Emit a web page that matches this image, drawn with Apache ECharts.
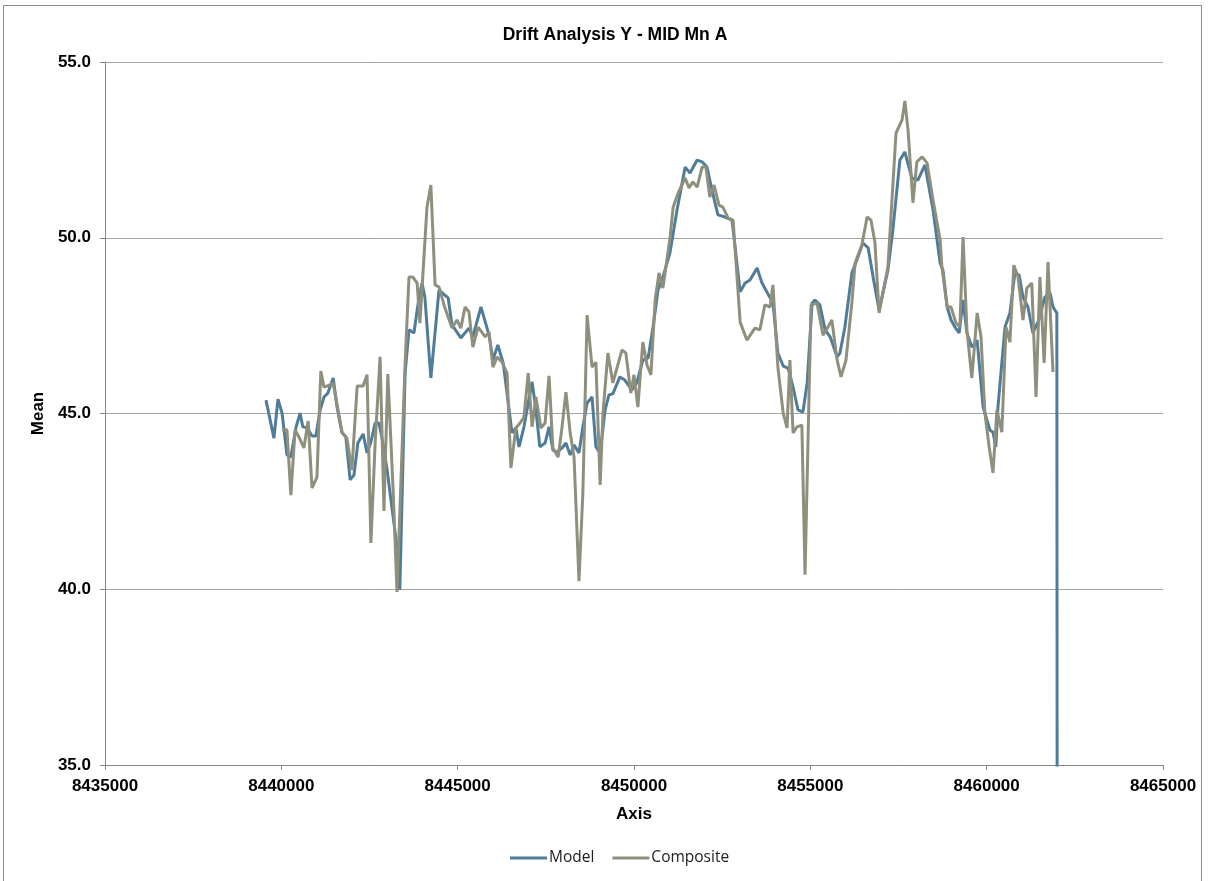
<!DOCTYPE html>
<html><head><meta charset="utf-8">
<script src="https://cdn.jsdelivr.net/npm/echarts@6/dist/echarts.min.js"></script>
<style>
html,body{margin:0;padding:0;background:#fff;}
#frame{position:absolute;left:3px;top:5px;width:1199px;height:880px;border:1px solid #8c8c8c;border-bottom:none;box-sizing:border-box;}
#chart{position:absolute;left:0;top:0;width:1208px;height:881px;}
</style></head>
<body>
<div id="frame"></div>
<div id="chart"></div>
<script>
const titleText = 'Drift Analysis Y - MID Mn A';
const xTicks = [8435000, 8465000, 5000];
const yTicks = [35, 55, 5];

const modelX = [8439565,8439790,8439905,8440020,8440160,8440270,8440420,8440530,8440610,8440730,8440870,8440980,8441100,8441210,8441320,8441470,8441580,8441720,8441830,8441950,8442060,8442170,8442320,8442430,8442540,8442660,8442770,8442880,8443000,8443170,8443280,8443360,8443510,8443620,8443760,8443880,8443990,8444070,8444240,8444470,8444730,8444840,8445090,8445320,8445430,8445660,8445890,8446000,8446140,8446290,8446400,8446540,8446650,8446740,8446880,8447110,8447220,8447330,8447480,8447590,8447700,8447820,8447960,8448070,8448190,8448300,8448440,8448550,8448670,8448810,8448920,8449040,8449180,8449290,8449400,8449600,8449740,8449940,8450080,8450250,8450400,8450540,8450680,8450820,8451020,8451220,8451450,8451590,8451790,8451930,8452070,8452210,8452380,8452580,8452780,8453010,8453150,8453290,8453490,8453630,8453860,8453940,8454080,8454230,8454370,8454510,8454650,8454790,8454910,8455050,8455130,8455270,8455420,8455560,8455760,8455840,8455980,8456180,8456320,8456490,8456640,8456780,8456950,8457200,8457340,8457540,8457680,8457880,8458050,8458250,8458480,8458680,8458760,8458880,8458990,8459100,8459220,8459330,8459440,8459580,8459730,8459900,8460090,8460180,8460260,8460320,8460520,8460660,8460800,8460920,8461030,8461170,8461310,8461480,8461650,8461800,8461880,8461990,8462020];
const modelY = [45.38,44.30,45.41,45.01,43.82,43.76,44.62,45.01,44.62,44.59,44.36,44.36,45.10,45.47,45.58,46.01,45.18,44.45,44.33,43.11,43.25,44.16,44.42,43.88,44.19,44.73,44.73,44.16,43.39,42.06,41.20,39.98,46.15,47.38,47.29,48.14,48.71,48.31,46.01,48.51,48.29,47.52,47.15,47.43,47.18,48.03,47.23,46.52,46.95,46.44,45.58,44.45,44.59,44.05,44.62,45.90,45.10,44.05,44.16,44.62,43.96,43.90,44.02,44.16,43.82,44.10,43.88,44.62,45.30,45.47,44.05,43.88,45.10,45.53,45.56,46.04,45.95,45.67,45.87,46.52,46.58,47.46,48.51,48.88,49.57,50.79,52.01,51.84,52.21,52.16,52.01,51.36,50.65,50.59,50.50,48.46,48.71,48.80,49.14,48.71,48.29,48.14,46.72,46.35,46.29,45.75,45.10,45.04,45.87,48.14,48.23,48.09,47.38,47.18,46.61,46.72,47.46,49.00,49.37,49.85,49.71,48.88,47.94,49.08,50.22,52.21,52.44,51.70,51.64,52.07,50.79,49.28,49.08,48.03,47.66,47.46,47.29,48.23,47.29,46.89,47.09,45.18,44.53,44.47,44.05,45.18,47.46,47.86,49.00,48.94,48.31,48.03,47.29,47.66,48.31,48.43,48.03,47.86,0];

const compX = [8440020,8440160,8440270,8440390,8440500,8440640,8440760,8440870,8441010,8441120,8441210,8441380,8441470,8441720,8441860,8442000,8442150,8442320,8442430,8442540,8442660,8442800,8442910,8443020,8443170,8443280,8443510,8443620,8443730,8443850,8443930,8444130,8444240,8444360,8444470,8444640,8444840,8444980,8445090,8445210,8445320,8445430,8445580,8445780,8445890,8446000,8446120,8446260,8446400,8446510,8446650,8446770,8446880,8447000,8447110,8447220,8447360,8447480,8447590,8447700,8447850,8447960,8448070,8448190,8448300,8448440,8448550,8448670,8448810,8448920,8449040,8449120,8449260,8449400,8449660,8449770,8449910,8450000,8450110,8450250,8450370,8450480,8450600,8450710,8450820,8451020,8451110,8451250,8451450,8451560,8451670,8451790,8451930,8452040,8452150,8452270,8452410,8452520,8452670,8452810,8453010,8453200,8453430,8453570,8453710,8453860,8453940,8454080,8454230,8454340,8454420,8454510,8454620,8454760,8454850,8455020,8455190,8455360,8455500,8455610,8455760,8455870,8456010,8456180,8456270,8456460,8456610,8456720,8456830,8456950,8457200,8457430,8457600,8457680,8457770,8457910,8458020,8458170,8458310,8458480,8458680,8458730,8458880,8458990,8459130,8459240,8459330,8459440,8459580,8459730,8459840,8459950,8460070,8460180,8460290,8460430,8460550,8460660,8460770,8460890,8461030,8461140,8461280,8461400,8461510,8461630,8461740,8461880];
const compY = [44.56,44.53,42.68,44.53,44.33,44.02,44.79,42.88,43.19,46.21,45.75,45.81,45.87,44.47,44.30,43.39,45.78,45.78,46.10,41.32,44.16,46.61,42.23,46.12,42.82,39.92,46.44,48.88,48.88,48.71,47.57,50.87,51.50,48.66,48.60,48.00,47.43,47.66,47.43,48.03,47.89,46.89,47.46,47.18,47.32,46.32,46.61,46.46,46.15,43.45,44.59,44.73,44.90,46.15,44.62,45.47,44.59,44.73,46.07,44.02,43.76,44.62,45.61,44.45,43.76,40.23,42.74,47.80,46.32,46.46,42.97,45.01,46.72,45.87,46.81,46.72,45.58,46.10,45.18,47.03,46.38,46.10,48.23,49.00,48.57,49.99,50.87,51.27,51.70,51.42,51.59,51.44,52.01,52.01,51.16,51.50,50.93,50.87,50.56,50.50,47.60,47.09,47.43,47.38,48.09,48.03,48.66,46.32,45.01,44.59,46.52,44.45,44.62,44.67,40.41,48.09,48.14,47.23,47.46,47.66,46.52,46.04,46.52,48.17,49.28,49.79,50.59,50.50,49.88,47.86,49.17,52.98,53.35,53.89,53.07,50.99,52.16,52.30,52.13,51.07,49.94,49.17,48.03,48.03,47.57,47.46,50.02,47.38,46.01,47.86,47.18,45.01,44.05,43.31,45.10,44.47,47.46,47.03,49.22,48.88,47.66,48.57,48.71,45.47,48.88,46.44,49.31,46.18];

const series1 = modelX.map((x,i)=>[x, modelY[i]]);
const series2 = compX.map((x,i)=>[x, compY[i]]);

const chart = echarts.init(document.getElementById('chart'), null, {renderer:'canvas'});
const axisFont = {fontFamily:'Liberation Sans, Arial, sans-serif', fontWeight:'bold', fontSize:17, color:'#000'};
chart.setOption({
  animation:false,
  backgroundColor:'transparent',
  title:{text:titleText, left:610, top:21, textAlign:'center',
    textStyle:{fontFamily:'Liberation Sans, Arial, sans-serif', fontWeight:'bold', fontSize:17.5, color:'#000'}},
  grid:{left:105, right:45, top:62, bottom:116, containLabel:false},
  legend:{bottom:10, left:505, itemWidth:37, itemHeight:3, itemGap:18,
    textStyle:{fontFamily:'Open Sans, Lato, sans-serif', fontSize:15.5, color:'#222', padding:[0,0,0,-3]},
    data:[{name:'Model', icon:'rect'},{name:'Composite', icon:'rect'}]},
  xAxis:{type:'value', min:xTicks[0], max:xTicks[1], interval:xTicks[2],
    name:'Axis', nameLocation:'middle', nameGap:41, nameTextStyle:axisFont,
    axisLine:{show:true, lineStyle:{color:'#868686', width:1}},
    axisTick:{show:true, length:5, lineStyle:{color:'#868686'}},
    axisLabel:Object.assign({margin:13, formatter:v=>String(v)}, axisFont),
    splitLine:{show:false}},
  yAxis:{type:'value', min:yTicks[0], max:yTicks[1], interval:yTicks[2],
    name:'Mean', nameLocation:'middle', nameGap:57, nameRotate:90, nameTextStyle:axisFont,
    axisLine:{show:true, lineStyle:{color:'#868686', width:1}},
    axisTick:{show:true, length:5, lineStyle:{color:'#868686'}},
    axisLabel:Object.assign({margin:14, formatter:v=>v.toFixed(1)}, axisFont),
    splitLine:{show:true, lineStyle:{color:'#a6a6a6', width:1}}},
  series:[
    {name:'Model', type:'line', data:series1, showSymbol:false, symbol:'none', clip:true,
      lineStyle:{color:'#4f7c99', width:3}, itemStyle:{color:'#4f7c99'}},
    {name:'Composite', type:'line', data:series2, showSymbol:false, symbol:'none', clip:true,
      lineStyle:{color:'#8f8f7d', width:3}, itemStyle:{color:'#8f8f7d'}}
  ]
});
</script>
</body></html>
